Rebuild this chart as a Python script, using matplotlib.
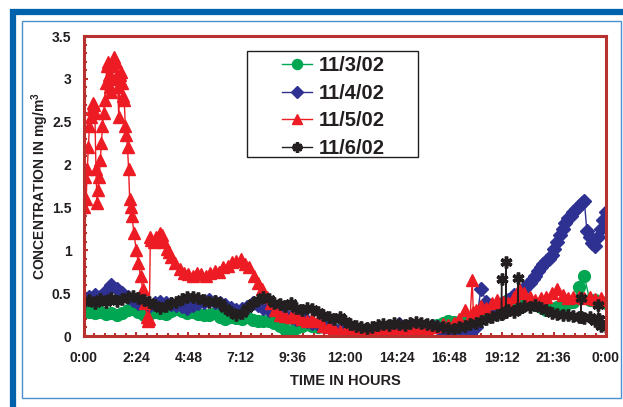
import numpy as np
import matplotlib
matplotlib.use('Agg')
import matplotlib.pyplot as plt
from matplotlib.patches import Rectangle
from matplotlib.ticker import MultipleLocator, FuncFormatter

plt.rcParams['font.family'] = ['Liberation Sans', 'DejaVu Sans']
plt.rcParams['mathtext.fontset'] = 'custom'
plt.rcParams['mathtext.rm'] = 'Liberation Sans'

# sampling grid (hours) shared by three of the days
t_grid = np.arange(0, 24.01, 0.25)

green_vals = [0.30, 0.28, 0.27, 0.28, 0.26, 0.27, 0.25, 0.27, 0.30, 0.31, 0.28, 0.24,
              0.26, 0.28, 0.27, 0.26, 0.29, 0.31, 0.29, 0.27, 0.28, 0.26, 0.24, 0.25,
              0.27, 0.22, 0.20, 0.22, 0.21, 0.20, 0.22, 0.19, 0.17, 0.18, 0.17, 0.15,
              0.12, 0.08, 0.03, 0.09, 0.12, 0.14, 0.12, 0.10, 0.13, 0.11, 0.08, 0.06,
              0.07, 0.10, 0.08, 0.06, 0.05, 0.04, 0.06, 0.05, 0.03, 0.07, 0.09, 0.06,
              0.05, 0.04, 0.07, 0.10, 0.12, 0.13, 0.15, 0.17, 0.16, 0.14, 0.18, 0.20,
              0.22, 0.26, 0.30, 0.33, 0.36, 0.39, 0.42, 0.44, 0.42, 0.40, 0.38, 0.36,
              0.34, 0.30, 0.32, 0.34, 0.33, 0.38, 0.40, 0.57, 0.70, 0.42, 0.42, 0.40,
              0.38]

blue_vals = [0.42, 0.45, 0.48, 0.46, 0.52, 0.60, 0.55, 0.50, 0.45, 0.42, 0.38, 0.40,
             0.35, 0.38, 0.40, 0.38, 0.37, 0.36, 0.35, 0.33, 0.36, 0.38, 0.40, 0.42,
             0.40, 0.38, 0.36, 0.33, 0.30, 0.32, 0.34, 0.38, 0.36, 0.33, 0.30, 0.32,
             0.28, 0.25, 0.22, 0.20, 0.22, 0.18, 0.15, 0.14, 0.12, 0.10, 0.08, 0.07,
             0.08, 0.06, 0.05, 0.07, 0.05, 0.04, 0.03, 0.05, 0.08, 0.12, 0.14, 0.10,
             0.06, 0.05, 0.07, 0.10, 0.12, 0.10, 0.06, 0.03, 0.02, 0.03, 0.04, 0.02,
             0.10, 0.55, 0.40, 0.35, 0.30, 0.38, 0.42, 0.48, 0.50, 0.55, 0.62, 0.70,
             0.80, 0.88, 0.95, 1.10, 1.25, 1.38, 1.45, 1.52, 1.58, 1.15, 1.05, 1.25,
             1.45]
# extra readings during the late-evening rise on 11/4/02
blue_extra_t = [20.125, 20.375, 20.625, 20.875, 21.125, 21.375, 21.625, 21.875,
                22.125, 22.375, 22.625, 22.875, 23.125, 23.375, 23.625, 23.875]
blue_extra_v = [0.52, 0.60, 0.66, 0.76, 0.84, 0.90, 1.02, 1.18,
                1.32, 1.40, 1.48, 1.55, 1.22, 1.08, 1.15, 1.35]

black_vals = [0.40, 0.42, 0.38, 0.43, 0.40, 0.44, 0.41, 0.43, 0.45, 0.47, 0.44, 0.42,
              0.40, 0.36, 0.33, 0.35, 0.38, 0.40, 0.43, 0.45, 0.46, 0.44, 0.42, 0.40,
              0.41, 0.38, 0.33, 0.28, 0.25, 0.27, 0.33, 0.38, 0.42, 0.45, 0.43, 0.38,
              0.37, 0.35, 0.38, 0.33, 0.30, 0.33, 0.32, 0.28, 0.25, 0.22, 0.20, 0.22,
              0.17, 0.14, 0.12, 0.10, 0.09, 0.11, 0.13, 0.14, 0.13, 0.15, 0.14, 0.13,
              0.15, 0.16, 0.15, 0.14, 0.13, 0.12, 0.11, 0.09, 0.08, 0.10, 0.12, 0.14,
              0.15, 0.17, 0.20, 0.22, 0.24, 0.27, 0.30, 0.28, 0.32, 0.35, 0.34, 0.36,
              0.33, 0.30, 0.27, 0.26, 0.25, 0.24, 0.23, 0.22, 0.21, 0.22, 0.18, 0.12,
              0.10]
# short-lived readings on 11/6/02
black_spike_t = [19.18, 19.20, 19.22, 19.38, 19.40, 19.42, 19.93, 19.95, 19.97,
                 22.83, 22.85, 22.87, 23.63, 23.65, 23.67]
black_spike_v = [0.26, 0.66, 0.26, 0.28, 0.86, 0.28, 0.31, 0.68, 0.31,
                 0.22, 0.44, 0.22, 0.20, 0.36, 0.20]

red_t = [0.0, 0.05, 0.1, 0.15, 0.2, 0.25, 0.3, 0.35, 0.4, 0.45, 0.5, 0.55, 0.6, 0.65,
         0.7, 0.75, 0.8, 0.85, 0.9, 0.95, 1.0, 1.05, 1.1, 1.15, 1.2, 1.25, 1.3, 1.35,
         1.4, 1.45, 1.5, 1.55, 1.6, 1.65, 1.7, 1.75, 1.8, 1.85, 1.9, 1.95, 2.0, 2.05,
         2.1, 2.15, 2.2, 2.3, 2.4, 2.5, 2.6, 2.7, 2.8, 2.9, 2.95, 3.0, 3.05, 3.1, 3.2,
         3.3, 3.4, 3.5, 3.6, 3.7, 3.8, 3.9, 4.0, 4.2, 4.4, 4.6, 4.8, 5.0, 5.2, 5.4,
         5.6, 5.8, 6.0, 6.2, 6.4, 6.6, 6.8, 7.0, 7.2, 7.4, 7.6, 7.8, 8.0, 8.2, 8.4,
         8.6, 8.8, 9.0, 9.25, 9.5, 9.75, 10.0, 10.25, 10.5, 10.75, 11.0, 11.25, 11.5,
         11.75, 12.0, 12.25, 12.5, 12.75, 13.0, 13.25, 13.5, 13.75, 14.0, 14.25, 14.5,
         14.75, 15.0, 15.25, 15.5, 15.75, 16.0, 16.25, 16.5, 16.75, 17.0, 17.25, 17.5,
         17.75, 17.85, 17.9, 18.0, 18.25, 18.5, 18.75, 19.0, 19.25, 19.5, 19.75, 20.0,
         20.25, 20.5, 20.75, 21.0, 21.25, 21.5, 21.75, 22.0, 22.25, 22.5, 22.75, 23.0,
         23.25, 23.5, 23.75, 24.0]
red_vals = [1.50, 1.85, 1.60, 1.95, 2.20, 2.45, 2.55, 2.65, 2.72, 2.70, 2.60, 1.95, 1.55,
            1.70, 1.85, 2.05, 2.25, 2.45, 2.60, 2.75, 2.95, 3.15, 3.20, 3.05, 2.90, 2.85,
            3.00, 3.15, 3.25, 3.20, 3.05, 2.90, 2.55, 3.05, 3.08, 2.95, 2.80, 2.75, 2.45,
            2.35, 2.20, 1.95, 1.60, 1.50, 1.40, 1.20, 1.00, 0.85, 0.70, 0.55, 0.38, 0.22,
            0.18, 0.20, 1.15, 1.12, 1.10, 1.15, 1.13, 1.20, 1.18, 1.10, 1.02, 0.98, 0.92,
            0.85, 0.78, 0.74, 0.72, 0.70, 0.74, 0.72, 0.70, 0.73, 0.76, 0.75, 0.80, 0.82,
            0.86, 0.88, 0.90, 0.84, 0.80, 0.70, 0.62, 0.55, 0.45, 0.38, 0.30, 0.25, 0.23,
            0.22, 0.24, 0.20, 0.18, 0.20, 0.17, 0.12, 0.10, 0.08, 0.06, 0.05, 0.07, 0.08,
            0.10, 0.09, 0.05, 0.03, 0.06, 0.08, 0.06, 0.05, 0.07, 0.09, 0.08, 0.06, 0.08,
            0.10, 0.12, 0.14, 0.13, 0.15, 0.20, 0.30, 0.22, 0.65, 0.28, 0.30, 0.35, 0.33,
            0.38, 0.42, 0.40, 0.38, 0.45, 0.55, 0.50, 0.45, 0.42, 0.44, 0.46, 0.50, 0.55,
            0.48, 0.44, 0.45, 0.46, 0.44, 0.45, 0.43, 0.44, 0.42]

labels = ['11/3/02', '11/4/02', '11/5/02', '11/6/02']
colors = ['#00a651', '#2e3192', '#ed1c24', '#231f20']
markers = ['o', 'D', '^', (6, 2, 0)]
sizes = [8.5, 7.5, 8.5, 8.5]
edge_widths = [1, 1, 1, 2.5]


def merge(t1, v1, t2, v2):
    t = np.concatenate([t1, t2])
    v = np.concatenate([v1, v2])
    order = np.argsort(t, kind='stable')
    return t[order], v[order]


blue_t, blue_v = merge(t_grid, np.array(blue_vals), np.array(blue_extra_t), np.array(blue_extra_v))
black_t, black_v = merge(t_grid, np.array(black_vals), np.array(black_spike_t), np.array(black_spike_v))
series = [(t_grid, green_vals), (blue_t, blue_v), (np.array(red_t), red_vals), (black_t, black_v)]

fig = plt.figure(figsize=(6.23, 4.07), dpi=100)

# blue frame around the figure
fig.patches.append(Rectangle((13 / 623, -0.05), 1.2, 1 - 12 / 407 + 0.05,
                             transform=fig.transFigure, fill=False, ec='#0062ac', lw=4.5))
fig.patches.append(Rectangle((22 / 623, 1 - 398 / 407), (621 - 22) / 623, (398 - 21) / 407,
                             transform=fig.transFigure, fill=False, ec='#4a90cf', lw=1))

ax = fig.add_axes([84 / 623, 1 - 336 / 407, (606 - 84) / 623, (336 - 36) / 407])

handles = []
for (t, v), lab, c, m, s, ew in zip(series, labels, colors, markers, sizes, edge_widths):
    h, = ax.plot(t, v, color=c, marker=m, ms=s, lw=1, label=lab, mec=c, mfc=c, mew=ew)
    handles.append(h)

ax.set_xlim(0, 24)
ax.set_ylim(0, 3.5)
ax.xaxis.set_major_locator(MultipleLocator(2.4))
ax.xaxis.set_minor_locator(MultipleLocator(0.48))
ax.yaxis.set_major_locator(MultipleLocator(0.5))
ax.yaxis.set_minor_locator(MultipleLocator(0.1))


def hhmm(x, pos):
    mins = int(round(x * 60)) % (24 * 60)
    return '%d:%02d' % (mins // 60, mins % 60)


ax.xaxis.set_major_formatter(FuncFormatter(hhmm))
ax.yaxis.set_major_formatter(FuncFormatter(lambda y, p: '%g' % y))

for sp in ax.spines.values():
    sp.set_color('#b8312f')
    sp.set_linewidth(2.2)
ax.tick_params(which='both', direction='in', color='#b8312f', width=1.5)
ax.tick_params(which='major', length=3, labelsize=10, labelcolor='#231f20')
ax.tick_params(axis='x', which='major', pad=11)
ax.tick_params(axis='y', which='major', pad=9)
ax.tick_params(which='minor', length=2)
for lbl in ax.get_xticklabels() + ax.get_yticklabels():
    lbl.set_fontweight('bold')

ax.set_xlabel('TIME IN HOURS', fontsize=10.5, fontweight='bold', color='#231f20', labelpad=6)
ax.set_ylabel(r'CONCENTRATION IN $\mathregular{mg/m^3}$', fontsize=10, fontweight='bold',
              color='#231f20', labelpad=1)

# legend box drawn on its own, entries placed inside it
ax.add_patch(Rectangle((247 / 623, 1 - 157 / 407), 171 / 623, 106 / 407,
                       transform=fig.transFigure, fill=True, fc='white',
                       ec='#231f20', lw=1, zorder=4, clip_on=False))
leg = ax.legend(handles=handles, loc='upper left', bbox_to_anchor=(282 / 623, 1 - 56 / 407),
                bbox_transform=fig.transFigure, frameon=False, markerscale=0.85,
                prop={'weight': 'bold', 'size': 14.5}, handlelength=1.5, handletextpad=0.3,
                labelspacing=0.43, borderpad=0, borderaxespad=0)
leg.set_zorder(6)
for txt in leg.get_texts():
    txt.set_color('#231f20')

fig.savefig('out.png', dpi=100)
